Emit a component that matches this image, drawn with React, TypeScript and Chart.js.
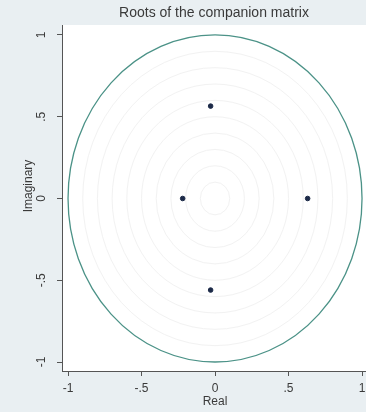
import React, { useEffect, useRef } from "react";
import { Chart, registerables } from "chart.js";

Chart.register(...registerables);

const titleText = "Roots of the companion matrix";
const xAxisTitle = "Real";
const yAxisTitle = "Imaginary";
const realParts = [-0.03, -0.03, -0.22, 0.63];
const imagParts = [0.565, -0.56, 0, 0];
const tickValues = [-1, -0.5, 0, 0.5, 1];
const tickLabels = ["-1", "-.5", "0", ".5", "1"];
const unitRadius = 1;
const ringRadii = [0.1, 0.2, 0.3, 0.4, 0.5, 0.6, 0.7, 0.8, 0.9];

const FONT = 'Arial, "Liberation Sans", sans-serif';

const ringsPlugin = {
  id: "rings",
  beforeDatasetsDraw(chart: any) {
    const { ctx, scales, chartArea } = chart;
    const xs = scales.x;
    const ys = scales.y;
    const cx = xs.getPixelForValue(0);
    const cy = ys.getPixelForValue(0);
    ctx.save();
    ctx.beginPath();
    ctx.rect(chartArea.left, chartArea.top, chartArea.right - chartArea.left, chartArea.bottom - chartArea.top);
    ctx.clip();
    ctx.strokeStyle = "#f2f2f2";
    ctx.lineWidth = 1;
    ringRadii.forEach((r) => {
      const rx = Math.abs(xs.getPixelForValue(r) - cx);
      const ry = Math.abs(ys.getPixelForValue(r) - cy);
      ctx.beginPath();
      ctx.ellipse(cx, cy, rx, ry, 0, 0, Math.PI * 2);
      ctx.stroke();
    });
    const rx = Math.abs(xs.getPixelForValue(unitRadius) - cx);
    const ry = Math.abs(ys.getPixelForValue(unitRadius) - cy);
    ctx.strokeStyle = "#4b9287";
    ctx.lineWidth = 1.3;
    ctx.beginPath();
    ctx.ellipse(cx, cy, rx, ry, 0, 0, Math.PI * 2);
    ctx.stroke();
    ctx.restore();
  },
};

const bgPlugin = {
  id: "bg",
  beforeDraw(chart: any) {
    const { ctx, chartArea, width, height } = chart;
    ctx.save();
    ctx.fillStyle = "#e9eff2";
    ctx.fillRect(0, 0, width, height);
    ctx.fillStyle = "#ffffff";
    ctx.fillRect(chartArea.left, chartArea.top, chartArea.right - chartArea.left, chartArea.bottom - chartArea.top);
    ctx.restore();
  },
};

const textPlugin = {
  id: "texts",
  afterDraw(chart: any) {
    const { ctx, chartArea } = chart;
    ctx.save();
    ctx.fillStyle = "#3a3a3a";
    ctx.textAlign = "center";
    ctx.textBaseline = "middle";
    ctx.font = `14px ${FONT}`;
    ctx.fillText(titleText, (chartArea.left + chartArea.right) / 2, 13);
    ctx.font = `12px ${FONT}`;
    ctx.fillText(xAxisTitle, chart.scales.x.getPixelForValue(0), 402);
    ctx.translate(29, 186);
    ctx.rotate(-Math.PI / 2);
    ctx.fillText(yAxisTitle, 0, 0);
    ctx.restore();
  },
};

export default function App() {
  const ref = useRef<HTMLCanvasElement>(null);
  useEffect(() => {
    document.body.style.margin = "0";
    const canvas = ref.current!;
    const chart = new Chart(canvas, {
      type: "scatter",
      data: {
        datasets: [
          {
            data: realParts.map((x, i) => ({ x, y: imagParts[i] })),
            backgroundColor: "#1c2a48",
            borderColor: "#1c2a48",
            pointRadius: 2.3,
            pointHoverRadius: 2.3,
          },
        ],
      },
      options: {
        animation: false,
        responsive: false,
        maintainAspectRatio: false,
        layout: { autoPadding: false, padding: { top: 25, right: 0, left: 0, bottom: 0 } },
        plugins: { legend: { display: false }, tooltip: { enabled: false }, title: { display: false } },
        scales: {
          x: {
            type: "linear",
            min: -1.041,
            max: 1.027,
            afterBuildTicks: (s: any) => {
              s.ticks = tickValues.map((v) => ({ value: v }));
            },
            afterFit: (s: any) => {
              s.height = 41;
              s.paddingLeft = 0;
              s.paddingRight = 0;
            },
            grid: { drawOnChartArea: false, drawTicks: true, tickLength: 5, color: "#555", lineWidth: 1 },
            border: { display: true, color: "#555", width: 1 },
            ticks: {
              padding: 5,
              color: "#3a3a3a",
              font: { family: FONT, size: 12 },
              maxRotation: 0,
              minRotation: 0,
              callback: (v: any) => tickLabels[tickValues.indexOf(Number(v))] ?? "",
            },
          },
          y: {
            type: "linear",
            min: -1.055,
            max: 1.061,
            afterBuildTicks: (s: any) => {
              s.ticks = tickValues.map((v) => ({ value: v }));
            },
            afterFit: (s: any) => {
              s.width = 62;
              s.paddingTop = 0;
              s.paddingBottom = 0;
            },
            grid: { drawOnChartArea: false, drawTicks: true, tickLength: 5, color: "#555", lineWidth: 1 },
            border: { display: true, color: "#555", width: 1 },
            ticks: {
              padding: 8,
              color: "#3a3a3a",
              font: { family: FONT, size: 12 },
              minRotation: 90,
              maxRotation: 90,
              crossAlign: "center",
              callback: (v: any) => tickLabels[tickValues.indexOf(Number(v))] ?? "",
            },
          },
        },
      },
      plugins: [bgPlugin, ringsPlugin, textPlugin],
    });
    return () => chart.destroy();
  }, []);
  return (
    <div style={{ width: 366, height: 412 }}>
      <canvas ref={ref} width={366} height={412} style={{ display: "block", width: 366, height: 412 }} />
    </div>
  );
}
